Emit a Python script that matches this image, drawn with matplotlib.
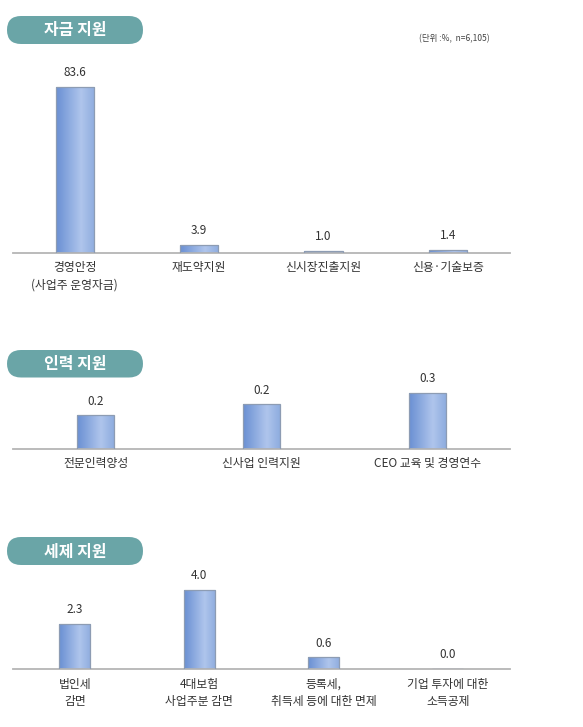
import matplotlib
matplotlib.use("Agg")
import matplotlib.pyplot as plt
import numpy as np
from matplotlib.patches import FancyBboxPatch
from matplotlib.colors import LinearSegmentedColormap

plt.rcParams['font.family'] = ['Noto Sans CJK KR', 'DejaVu Sans']

# ---- data ----
fund_title = "자금 지원"
fund_cats = ["경영안정\n(사업주 운영자금)", "재도약지원", "신시장진출지원", "신용·기술보증"]
fund_vals = [83.6, 3.9, 1.0, 1.4]

hr_title = "인력 지원"
hr_cats = ["전문인력양성", "신사업 인력지원", "CEO 교육 및 경영연수"]
hr_vals = [0.18, 0.24, 0.30]

tax_title = "세제 지원"
tax_cats = ["법인세\n감면", "4대보험\n사업주분 감면", "등록세,\n취득세 등에 대한 면제", "기업 투자에 대한\n소득공제"]
tax_vals = [2.3, 4.0, 0.6, 0.0]

unit_note = "(단위 :%,  n=6,105)"

W, H = 583, 727
fig = plt.figure(figsize=(W / 100, H / 100), dpi=100)
fig.patch.set_facecolor("white")

# background overlay axes in pixel units
bg = fig.add_axes([0, 0, 1, 1], zorder=0)
bg.set_xlim(0, W)
bg.set_ylim(H, 0)
bg.axis("off")

pill_color = "#6aa5a7"
cmap = LinearSegmentedColormap.from_list(
    "bar", [(0.0, "#6a90d3"), (0.65, "#afc5ec"), (1.0, "#8faddf")])
grad = np.linspace(0, 1, 64).reshape(1, -1)


def pill(y0, y1, text):
    p = FancyBboxPatch((7, y0), 136, y1 - y0,
                       boxstyle="round,pad=0,rounding_size=14",
                       facecolor=pill_color, edgecolor="none")
    bg.add_patch(p)
    bg.text(75, (y0 + y1) / 2 + 0.5, text, color="white", fontsize=11.5,
            fontweight="bold", ha="center", va="center")


def panel(cats, vals, base_px, top_px, px_per_unit, width):
    ax = fig.add_axes([12.7 / W, 1 - base_px / H, (510 - 12.7) / W,
                       (base_px - top_px) / H], zorder=1)
    x = np.arange(len(cats))
    bars = ax.bar(x, vals, width, color="none", edgecolor="#8d9cb3",
                  linewidth=0.9, zorder=3)
    for p in bars:
        h = p.get_height()
        if h <= 0:
            continue
        im = ax.imshow(grad, extent=(p.get_x(), p.get_x() + p.get_width(), 0, h),
                       aspect="auto", cmap=cmap, zorder=2, interpolation="bilinear")
        im.set_clip_path(p)
    for xi, v in zip(x, vals):
        ax.annotate(f"{v:.1f}", (xi, v), xytext=(0, 10.3), textcoords="offset points",
                    ha="center", va="center", fontsize=8.5, color="#333333")
    ax.set_xlim(-0.5, len(cats) - 0.5)
    ax.set_ylim(0, (base_px - top_px) / px_per_unit)
    ax.set_xticks(x)
    ax.set_xticklabels(cats, fontsize=8.5, color="#333333", linespacing=1.45)
    ax.tick_params(axis="x", length=0, pad=6)
    ax.set_yticks([])
    for s in ["top", "left", "right"]:
        ax.spines[s].set_visible(False)
    ax.spines["bottom"].set_color("#b5b5b5")
    ax.spines["bottom"].set_linewidth(1.3)
    ax.patch.set_alpha(0)
    return ax


pill(16, 44, fund_title)
bg.text(490, 39, unit_note, fontsize=6.1, color="#444444", ha="right", va="center")
panel(fund_cats, fund_vals, 252.7, 60, 166 / 83.6, 0.306)

pill(350, 377.5, hr_title)
panel(hr_cats, hr_vals, 448.7, 370, 55.4 / 0.30, 0.223)

pill(537, 565, tax_title)
panel(tax_cats, tax_vals, 669.3, 570, 79 / 4.0, 0.25)

fig.savefig("out.png", dpi=100)
